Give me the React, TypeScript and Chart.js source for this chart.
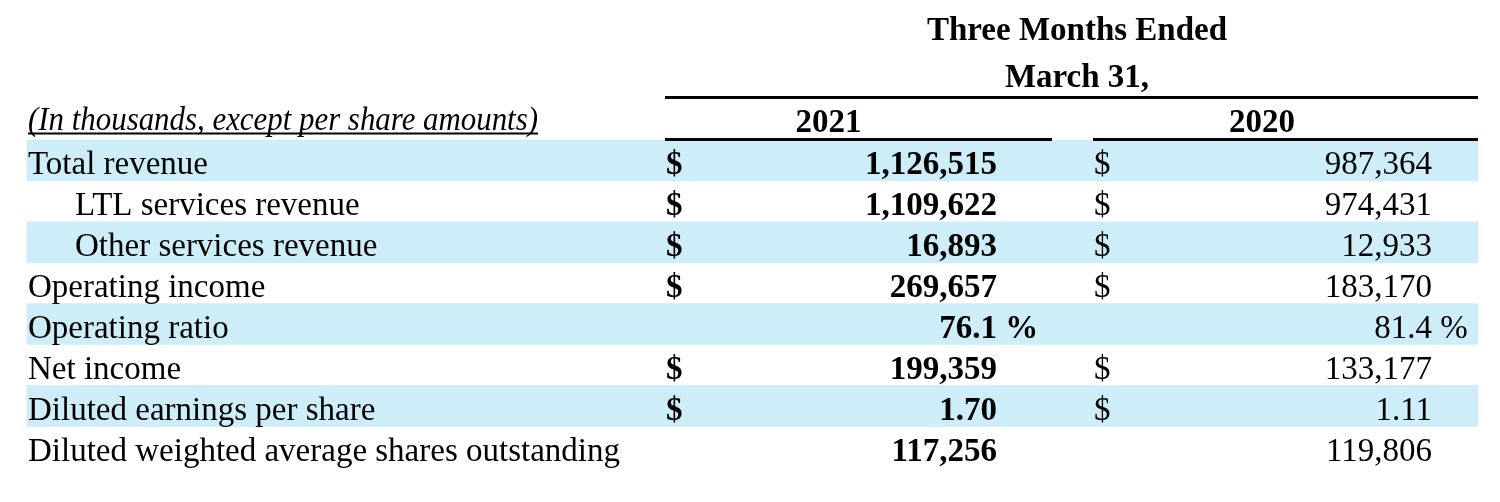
import React, { useEffect, useRef } from 'react';
import { Chart, registerables } from 'chart.js';

Chart.register(...registerables);

// ---- Data ----
const headerLines = ['Three Months Ended', 'March 31,'];
const unitNote = '(In thousands, except per share amounts)';
const periodYears = ['2021', '2020'];
const rowLabels = [
  'Total revenue',
  'LTL services revenue',
  'Other services revenue',
  'Operating income',
  'Operating ratio',
  'Net income',
  'Diluted earnings per share',
  'Diluted weighted average shares outstanding',
];
const rowIndented = [false, true, true, false, false, false, false, false];
const rowFormats = ['int', 'int', 'int', 'int', 'pct', 'int', 'eps', 'int'];
const rowHasDollar = [true, true, true, true, false, true, true, false];
const rowShaded = [true, false, true, false, true, false, true, false];
const values2021 = [1126515, 1109622, 16893, 269657, 76.1, 199359, 1.7, 117256];
const values2020 = [987364, 974431, 12933, 183170, 81.4, 133177, 1.11, 119806];

// ---- Layout / style ----
const FONT = '"Liberation Serif", "Times New Roman", serif';
const LAYOUT = {
  width: 1500,
  height: 502,
  padTop: 140,
  padBottom: 34.8,
  bandStart: 27,
  bandEnd: 1478,
  bandColor: '#CDEEF9',
  fontSize: 33,
  labelX: 28,
  indentX: 75,
  dollarX: [666, 1094],
  valueRightX: [997, 1432],
  yearCenterX: [828.5, 1262],
  yearRules: [
    [665, 1052],
    [1093, 1478],
  ],
  topRule: [665, 1478],
  topRuleY: 97.5,
  yearRuleY: 139.5,
  ruleWidth: 3,
  headerCenterX: 1077,
  headerBaselines: [39.5, 87.3],
  yearBaseline: 131.5,
  noteX: 28,
  noteWidth: 510,
  noteBaseline: 129.5,
  noteUnderlineY: 133.5,
  baselineOffset: 13.85,
};

function fmt(v: number, kind: string): string {
  if (kind === 'pct') return v.toFixed(1);
  if (kind === 'eps') return v.toFixed(2);
  return v.toLocaleString('en-US');
}

const tablePlugin = {
  id: 'tableText',
  afterDatasetsDraw(chart: any) {
    const ctx: CanvasRenderingContext2D = chart.ctx;
    const xs = chart.scales.x;
    const ys = chart.scales.y;
    const fs = LAYOUT.fontSize;
    const reg = `${fs}px ${FONT}`;
    const bold = `bold ${fs}px ${FONT}`;
    const ital = `italic ${fs}px ${FONT}`;
    ctx.save();
    ctx.fillStyle = '#000';
    ctx.textBaseline = 'alphabetic';

    // rules
    const rw = LAYOUT.ruleWidth;
    const x0 = xs.getPixelForValue(LAYOUT.topRule[0]);
    const x1 = xs.getPixelForValue(LAYOUT.topRule[1]);
    ctx.fillRect(x0, LAYOUT.topRuleY - rw / 2, x1 - x0, rw);
    LAYOUT.yearRules.forEach(([a, b]) => {
      const pa = xs.getPixelForValue(a);
      const pb = xs.getPixelForValue(b);
      ctx.fillRect(pa, LAYOUT.yearRuleY - rw / 2, pb - pa, rw);
    });

    // header
    ctx.font = bold;
    ctx.textAlign = 'center';
    headerLines.forEach((t, i) => {
      ctx.fillText(t, xs.getPixelForValue(LAYOUT.headerCenterX), LAYOUT.headerBaselines[i]);
    });
    periodYears.forEach((t, i) => {
      ctx.fillText(t, xs.getPixelForValue(LAYOUT.yearCenterX[i]), LAYOUT.yearBaseline);
    });

    // unit note (italic, underlined)
    ctx.font = ital;
    ctx.textAlign = 'left';
    const nx = xs.getPixelForValue(LAYOUT.noteX);
    const nxEnd = xs.getPixelForValue(LAYOUT.noteX + LAYOUT.noteWidth);
    ctx.fillText(unitNote, nx, LAYOUT.noteBaseline, nxEnd - nx);
    ctx.fillRect(nx, LAYOUT.noteUnderlineY - 1, nxEnd - nx, 2);

    // rows
    rowLabels.forEach((label, i) => {
      const base = ys.getPixelForValue(i) + LAYOUT.baselineOffset;
      ctx.font = reg;
      ctx.textAlign = 'left';
      ctx.fillText(label, xs.getPixelForValue(rowIndented[i] ? LAYOUT.indentX : LAYOUT.labelX), base);

      [values2021, values2020].forEach((vals, c) => {
        const f = c === 0 ? bold : reg;
        ctx.font = f;
        if (rowHasDollar[i]) {
          ctx.textAlign = 'left';
          ctx.fillText('$', xs.getPixelForValue(LAYOUT.dollarX[c]), base);
        }
        const rx = xs.getPixelForValue(LAYOUT.valueRightX[c]);
        ctx.textAlign = 'right';
        ctx.fillText(fmt(vals[i], rowFormats[i]), rx, base);
        if (rowFormats[i] === 'pct') {
          ctx.textAlign = 'left';
          ctx.fillText(' %', rx, base);
        }
      });
    });
    ctx.restore();
  },
};

export default function App() {
  const ref = useRef<HTMLCanvasElement>(null);
  useEffect(() => {
    if (!ref.current) return;
    const chart = new Chart(ref.current, {
      type: 'bar',
      data: {
        labels: rowLabels,
        datasets: [
          {
            label: 'rows',
            data: rowLabels.map((_, i) => (rowShaded[i] ? [LAYOUT.bandStart, LAYOUT.bandEnd] : null)) as any,
            backgroundColor: LAYOUT.bandColor,
            borderWidth: 0,
            barPercentage: 1,
            categoryPercentage: 1,
          },
        ],
      },
      options: {
        indexAxis: 'y',
        responsive: false,
        devicePixelRatio: 1,
        animation: false,
        events: [],
        layout: { padding: { top: LAYOUT.padTop, bottom: LAYOUT.padBottom, left: 0, right: 0 } },
        scales: {
          x: { type: 'linear', min: 0, max: LAYOUT.width, display: false },
          y: { type: 'category', display: false, offset: true },
        },
        plugins: { legend: { display: false }, tooltip: { enabled: false } },
      },
      plugins: [tablePlugin],
    });
    const fonts = (document as any).fonts;
    if (fonts && fonts.load) {
      Promise.all([
        fonts.load(`${LAYOUT.fontSize}px "Liberation Serif"`),
        fonts.load(`bold ${LAYOUT.fontSize}px "Liberation Serif"`),
        fonts.load(`italic ${LAYOUT.fontSize}px "Liberation Serif"`),
      ])
        .then(() => chart.update())
        .catch(() => {});
    }
    return () => chart.destroy();
  }, []);
  return (
    <div style={{ position: 'absolute', left: 0, top: 0, width: LAYOUT.width, height: LAYOUT.height, background: '#fff' }}>
      <canvas ref={ref} width={LAYOUT.width} height={LAYOUT.height} style={{ display: 'block' }} />
    </div>
  );
}
